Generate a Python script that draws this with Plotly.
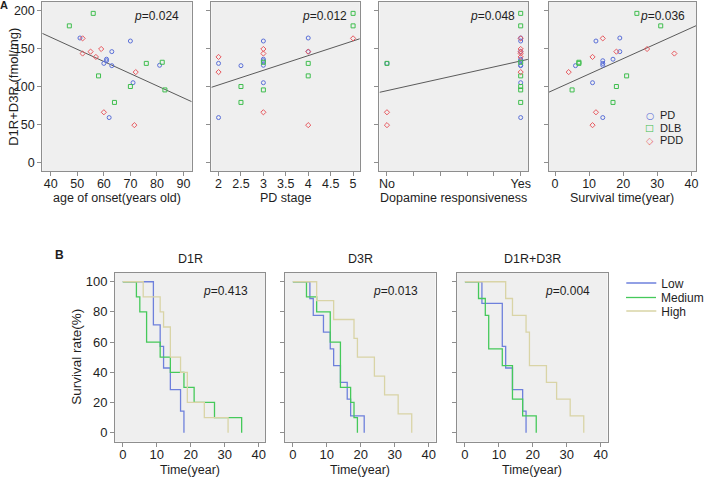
import plotly.graph_objects as go

W, H = 709, 478

def px(x):
    return x / W

def py(y):
    return 1 - y / H

# ---------------- Panel A data (per patient, by group) ----------------
groups = ["PD", "DLB", "PDD"]

pd_value = [164, 160, 146, 136, 134, 130.5, 128, 127.5, 105, 59]
pd_age = [51, 70, 63, 61, 61, 60, 81, 63, 71, 62]
pd_stage = [4, 3, 4, 3, 3, 2, 3, 2.5, 3, 2]
pd_dopa = [1, 1, 1, 1, 1, 0, 1, 1, 1, 1]
pd_surv = [19, 12, 19, 17, 14, 14, 14, 6, 11, 14]

dlb_value = [196.5, 180, 132, 130.5, 114, 100, 95.5, 79]
dlb_age = [56, 47, 82, 76, 58, 70, 83, 64]
dlb_stage = [5, 5, 3, 4, 4, 2.5, 3, 2.5]
dlb_dopa = [1, 1, 1, 0, 1, 1, 1, 1]
dlb_surv = [24, 31, 7, 7, 21, 18, 5, 17]

pdd_value = [163.5, 149.5, 146, 143.5, 139, 119, 66, 49]
pdd_age = [52, 59, 55, 52, 57, 72, 60, 71.5]
pdd_stage = [5, 3, 4, 3, 2, 2, 3, 4]
pdd_dopa = [1, 1, 1, 1, 1, 1, 0, 0]
pdd_surv = [14, 27, 18, 35, 11, 4, 12, 11]

# regression lines (x at ends, fitted y)
fit_age_x, fit_age_y = [36.8, 93.1], [170.1, 80.0]
fit_stage_x, fit_stage_y = [1.84, 5.15], [98.9, 163.0]
fit_dopa_x, fit_dopa_y = [-0.056, 1.054], [92.3, 135.8]
fit_surv_x, fit_surv_y = [-1.9, 41.35], [92.3, 180.2]

p_values_A = ["0.024", "0.012", "0.048", "0.036"]

# ---------------- Panel B data: survival times (years) ----------------
km_panels = ["D1R", "D3R", "D1R+D3R"]
d1r_low = [9, 9, 11, 12, 14, 17, 18]
d1r_medium = [4, 5, 7, 7, 11, 14, 18, 21, 27, 35]
d1r_high = [6, 11, 12, 14, 14, 17, 19, 19, 24, 31]
d3r_low = [5, 6, 9, 11, 12, 14, 16, 17, 21]
d3r_medium = [4, 7, 11, 11, 14, 14, 14, 17, 18, 19]
d3r_high = [7, 12, 18, 19, 24, 27, 31, 35]
both_low = [5, 11, 11, 12, 14, 17, 18]
both_medium = [4, 6, 7, 7, 11, 14, 14, 17, 21]
both_high = [12, 14, 18, 19, 19, 24, 27, 31, 35]
p_values_B = ["0.413", "0.013", "0.004"]
km_levels = ["Low", "Medium", "High"]

# ---------------- styles ----------------
FONT = "Liberation Sans, Arial, sans-serif"
TXT = "#1e1e1e"
grp_color = {"PD": "#5a6fd8", "DLB": "#3fbe4e", "PDD": "#e85a60"}
grp_symbol = {"PD": "circle-open", "DLB": "square-open", "PDD": "diamond-open"}
km_color = {"Low": "#6e80dc", "Medium": "#45c95a", "High": "#d9d4a6"}
km_legend = {"Low": "legend", "Medium": "legend2", "High": "legend3"}
BG = "#efefef"
FRAME = "#8e8e8e"

data = {
    "PD": dict(value=pd_value, age=pd_age, stage=pd_stage, dopa=pd_dopa, surv=pd_surv),
    "DLB": dict(value=dlb_value, age=dlb_age, stage=dlb_stage, dopa=dlb_dopa, surv=dlb_surv),
    "PDD": dict(value=pdd_value, age=pdd_age, stage=pdd_stage, dopa=pdd_dopa, surv=pdd_surv),
}

fig = go.Figure()

features = ["age", "stage", "dopa", "surv"]
fits = [(fit_age_x, fit_age_y), (fit_stage_x, fit_stage_y),
        (fit_dopa_x, fit_dopa_y), (fit_surv_x, fit_surv_y)]

for i, feat in enumerate(features):
    ax = "" if i == 0 else str(i + 1)
    fx, fy = fits[i]
    fig.add_trace(go.Scatter(x=fx, y=fy, mode="lines", xaxis="x" + ax, yaxis="y" + ax,
                             line=dict(color="#5a5a5a", width=1), showlegend=False,
                             hoverinfo="skip"))
    for g in groups:
        fig.add_trace(go.Scatter(
            x=data[g][feat], y=data[g]["value"], mode="markers",
            xaxis="x" + ax, yaxis="y" + ax, showlegend=False, name=g,
            marker=dict(symbol=grp_symbol[g], size=4, color=grp_color[g],
                        line=dict(width=1, color=grp_color[g]))))


def km_steps(times):
    ts = sorted(times)
    n = len(ts)
    xs, ys = [0], [100.0]
    remaining = n
    for t in sorted(set(ts)):
        remaining -= ts.count(t)
        xs.append(t)
        ys.append(100.0 * remaining / n)
    return xs, ys


km_sets = [
    [d1r_low, d1r_medium, d1r_high],
    [d3r_low, d3r_medium, d3r_high],
    [both_low, both_medium, both_high],
]
for j, sets in enumerate(km_sets):
    ax = str(5 + j)
    for lvl, times in zip(km_levels, sets):
        xs, ys = km_steps(times)
        fig.add_trace(go.Scatter(x=xs, y=ys, mode="lines", line_shape="hv",
                                 xaxis="x" + ax, yaxis="y" + ax,
                                 line=dict(color=km_color[lvl], width=1.3),
                                 name=lvl, showlegend=(j == 0), legend=km_legend[lvl]))

# ---------------- axes ----------------
tickfont = dict(family=FONT, size=12.5, color=TXT)
common = dict(showline=True, mirror=True, linecolor=FRAME, linewidth=1,
              ticks="outside", ticklen=4, tickcolor=FRAME, tickwidth=1,
              showgrid=False, zeroline=False, tickfont=tickfont, fixedrange=True)

a_dom = [(43, 195), (215, 366), (386, 537), (558, 708)]
a_ydom = [py(171), py(2)]
a_xranges = [[36.8, 93.1], [1.84, 5.15], [-0.056, 1.054], [-1.9, 41.35]]
a_xticks = [
    dict(tickvals=[40, 50, 60, 70, 80, 90]),
    dict(tickvals=[2, 2.5, 3, 3.5, 4, 4.5, 5], ticktext=["2", "2.5", "3", "3.5", "4", "4.5", "5"]),
    dict(tickvals=[0, 0.2, 0.4, 0.6, 0.8, 1], ticktext=["No", "", "", "", "", "Yes"]),
    dict(tickvals=[0, 10, 20, 30, 40]),
]
layout = {}
for i in range(4):
    k = "" if i == 0 else str(i + 1)
    layout["xaxis" + k] = dict(common, domain=[px(a_dom[i][0]), px(a_dom[i][1])],
                               range=a_xranges[i], anchor="y" + k, tickmode="array",
                               ticklabelstandoff=-3, **a_xticks[i])
    layout["yaxis" + k] = dict(common, domain=a_ydom, range=[-11.5, 211.5], anchor="x" + k,
                               tickvals=[0, 50, 100, 150, 200], showticklabels=(i == 0))

b_dom = [(117, 270), (290, 443), (465, 618)]
b_ydom = [py(441.7), py(272.7)]
b_tickfont = dict(family=FONT, size=13, color=TXT)
for j in range(3):
    k = str(5 + j)
    layout["xaxis" + k] = dict(common, domain=[px(b_dom[j][0]), px(b_dom[j][1])],
                               range=[-2.3, 42.0], anchor="y" + k, ticklabelstandoff=-3,
                               tickvals=[0, 10, 20, 30, 40], tickfont=b_tickfont)
    layout["yaxis" + k] = dict(common, domain=b_ydom, range=[-6, 106], anchor="x" + k,
                               tickvals=[0, 20, 40, 60, 80, 100], showticklabels=(j == 0),
                               tickfont=b_tickfont)

# ---------------- annotations ----------------
ann = []

def text(x, y, s, size=12.5, angle=0, xanchor="center", bold=False, color=TXT, height=None):
    a = dict(x=px(x), y=py(y), xref="paper", yref="paper", text=("<b>%s</b>" % s) if bold else s,
             showarrow=False, xanchor=xanchor, yanchor="middle", textangle=angle,
             font=dict(family=FONT, size=size, color=color))
    if height:
        a["height"] = height
    ann.append(a)

text(4, 5, "A", size=11, bold=True)
text(61, 255, "B", size=12, bold=True)

a_titles = ["age of onset(years old)", "PD stage", "Dopamine responsiveness", "Survival time(year)"]
for i in range(4):
    cx = (a_dom[i][0] + a_dom[i][1]) / 2
    text(cx, 197.5, a_titles[i])
    text(a_dom[i][1] - (9 if i == 3 else 11), 16, "<i>p</i>=" + p_values_A[i], size=12, xanchor="right")
text(13, 87, "D1R+D3R (fmol/mg)", size=13, angle=-90)

for j in range(3):
    cx = (b_dom[j][0] + b_dom[j][1]) / 2
    text(cx, 470, "Time(year)")
    text(cx, 259, km_panels[j])
    text(b_dom[j][1] - 16, 291, "<i>p</i>=" + p_values_B[j], size=12, xanchor="right")
text(77, 357, "Survival rate(%)", size=13.5, angle=-90)

# legend for panel A (glyph + label)
leg_sym = {"PD": "\u25CB", "DLB": "\u25A1", "PDD": "\u25C7"}
for g, yy in zip(groups, [115, 127.5, 140]):
    ann.append(dict(x=px(661), y=py(yy), xref="paper", yref="paper", text=leg_sym[g],
                    showarrow=False, xanchor="center", yanchor="middle",
                    font=dict(family="DejaVu Sans", size=9.5, color=grp_color[g])))
    text(669, yy, g, size=11, xanchor="left")

leg_common = dict(xanchor="left", yanchor="middle", bgcolor="rgba(0,0,0,0)",
                  font=dict(family=FONT, size=12, color=TXT), itemwidth=30,
                  borderwidth=0)

fig.update_layout(
    **layout,
    annotations=ann,
    width=W, height=H,
    margin=dict(l=0, r=0, t=0, b=0),
    paper_bgcolor="white",
    plot_bgcolor=BG,
    font=dict(family=FONT, size=12.5, color=TXT),
    legend=dict(leg_common, x=px(632), y=py(283)),
    legend2=dict(leg_common, x=px(632), y=py(297.5)),
    legend3=dict(leg_common, x=px(632), y=py(311)),
)

fig.write_html("out.html", config={"displayModeBar": False},
               post_script="document.body.style.margin='0px';document.body.style.overflow='hidden';")
